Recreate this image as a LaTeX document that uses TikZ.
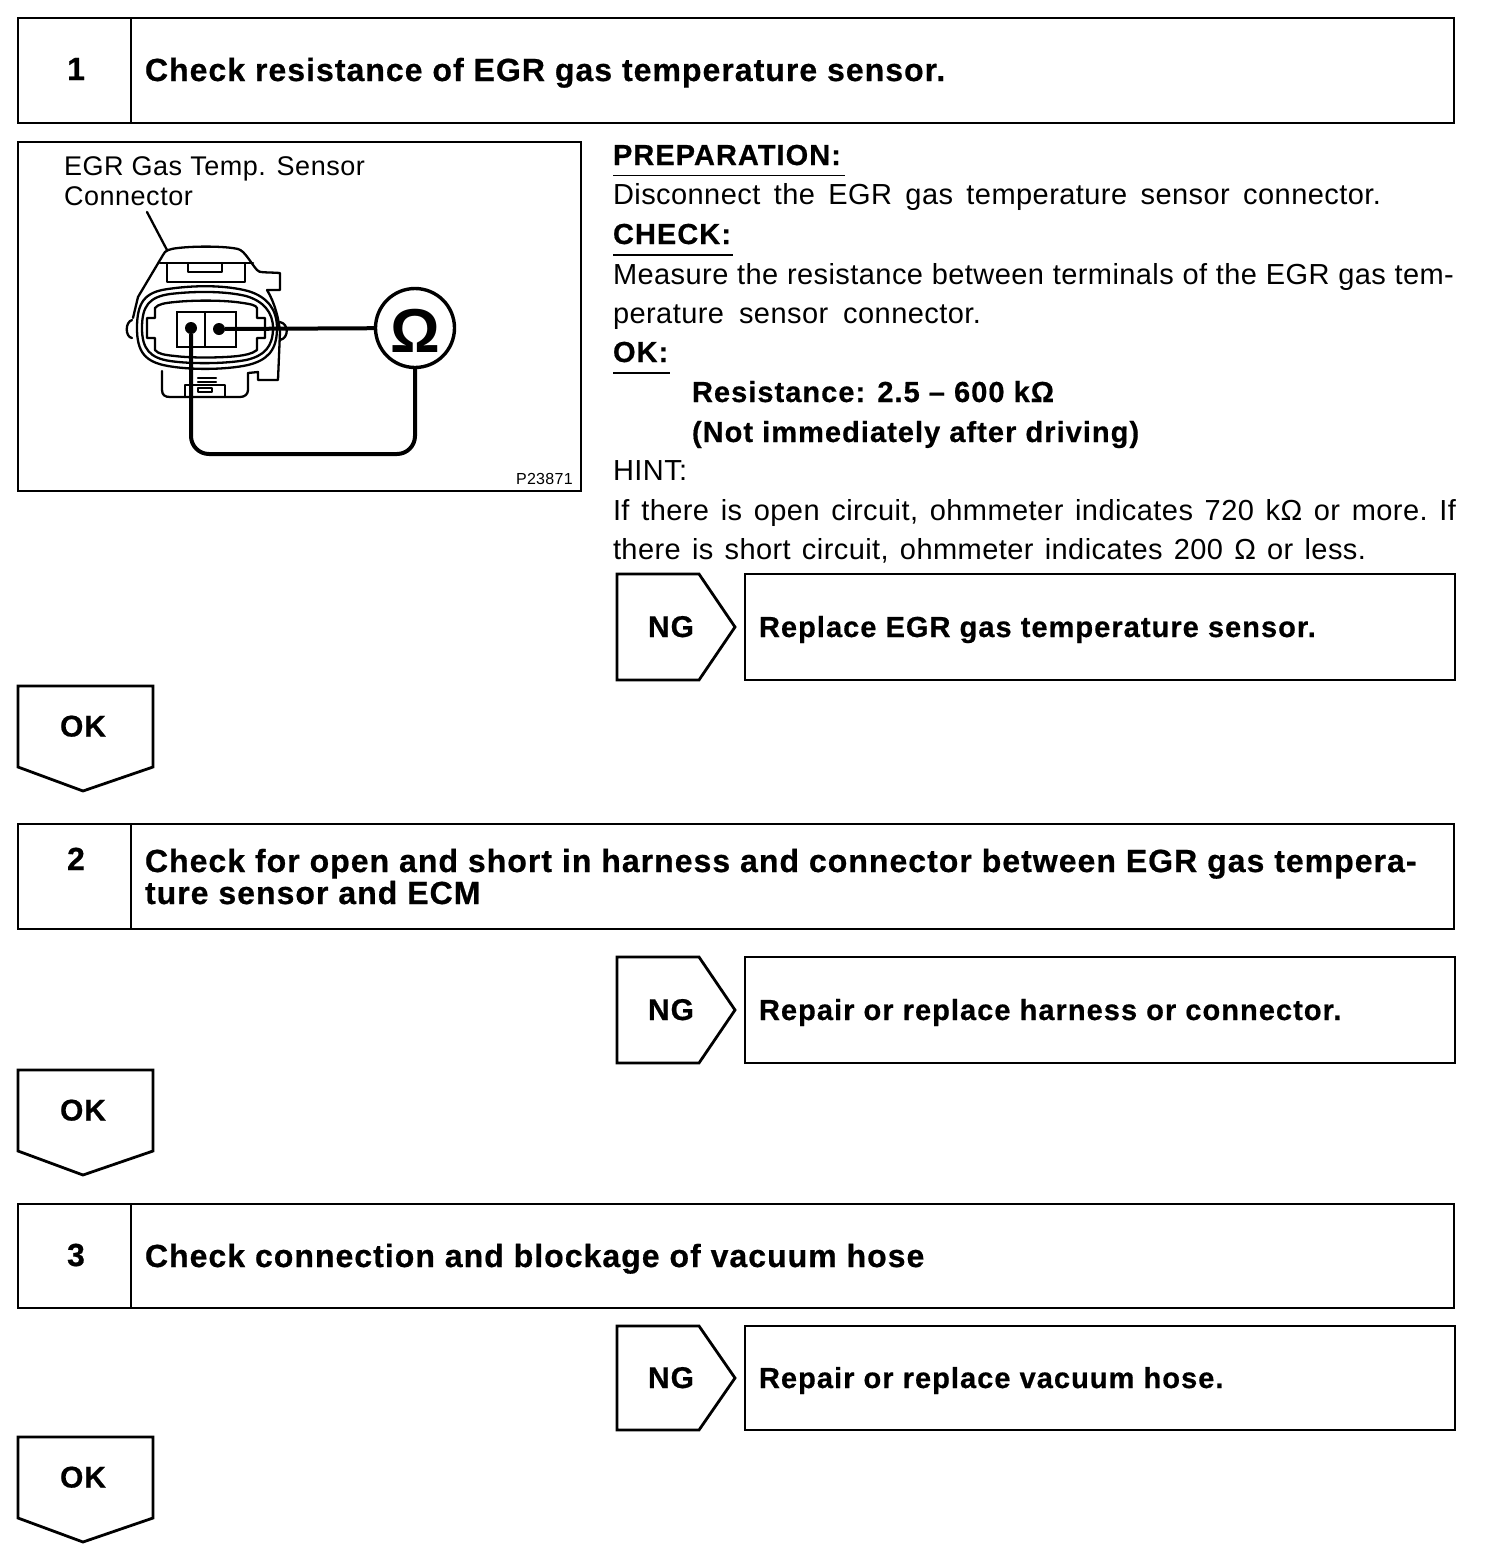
\documentclass[tikz,border=0pt]{standalone}
\usepackage{fontspec}
\setmainfont{Liberation Sans}[LetterSpace=1.5,Scale=1.0]
\newfontfamily\boldsp{Liberation Sans}[LetterSpace=3.6,BoldFeatures={FakeBold=0.6}]
\newfontfamily\headsp{Liberation Sans}[LetterSpace=3.2,BoldFeatures={FakeBold=0.6}]
\newfontfamily\figsp{Liberation Sans}[LetterSpace=2]
\newcommand{\fillw}[2]{\makebox[#1][s]{\frenchspacing\spaceskip=0.2em plus 1em\relax #2}}
\tikzset{
  x=1pt,y=-1pt,
  box/.style={line width=2.8pt,line join=miter},
  thin part/.style={line width=2.3pt,line join=round,line cap=round},
  wire/.style={line width=4pt,line join=round},
  txt/.style={anchor=base west,inner sep=0pt,outer sep=0pt,font=\fontsize{29}{29}\selectfont},
  btxt/.style={txt,font=\boldsp\fontsize{29}{29}\selectfont\bfseries},
  head/.style={txt,font=\headsp\fontsize{32}{32}\selectfont\bfseries},
  num/.style={anchor=base,inner sep=0pt,font=\headsp\fontsize{32}{32}\selectfont\bfseries},
  ngt/.style={anchor=base,inner sep=0pt,font=\headsp\fontsize{30}{30}\selectfont\bfseries},
  fig/.style={txt,font=\figsp\fontsize{27}{27}\selectfont},
  rule/.style={line width=1.3pt},
}
\begin{document}
\begin{tikzpicture}
\useasboundingbox (0,0) rectangle (1504,1558);
% step boxes
\draw[box] (18,18) rectangle (1454,123); \draw[box] (131,18) -- (131,123);
\draw[box] (18,824) rectangle (1454,929); \draw[box] (131,824) -- (131,929);
\draw[box] (18,1204) rectangle (1454,1308); \draw[box] (131,1204) -- (131,1308);
\node[num] (n1) at (76,80) {1};
\node[num] (n2) at (76,870) {2};
\node[num] (n3) at (76,1266) {3};
\node[head] (h1) at (145,81) {Check resistance of EGR gas temperature sensor.};
\node[head] (h2a) at (145,872) {Check for open and short in harness and connector between EGR gas tempera-};
\node[head] (h2b) at (145,904) {ture sensor and ECM};
\node[head] (h3) at (145,1267) {Check connection and blockage of vacuum hose};
% figure
\draw[box] (18,142) rectangle (581,491);
\node[fig] (f1) at (64,175) {EGR Gas Temp. Sensor};
\node[fig] (f2) at (64,205) {Connector};
\node[anchor=base east,inner sep=0pt,font=\figsp\fontsize{16}{16}\selectfont] (pn) at (573,484) {P23871};
\coordinate (lead) at (147,212);
\coordinate (body) at (167,250);
\draw[thin part] (lead) -- (body);
% connector housing
\draw[thin part] (133,318) -- (138,297) -- (163,255) .. controls (165,250) and (170,249) .. (178,248) .. controls (195,246) and (225,246) .. (238,249) .. controls (245,251) and (250,262) .. (257,270) .. controls (259,273) and (265,272) .. (280,273) -- (280,290) -- (267,290) .. controls (275,303) and (279,320) .. (280,332) -- (278,380) -- (258,380) -- (258,372) -- (248,373);
\draw[thin part] (160,263) -- (253,263);
\draw[thin part] (167,263) -- (167,282) -- (245,282) -- (245,263);
\draw[thin part] (188,263) -- (188,272) -- (222,272) -- (222,263);
% seals
\draw[thin part] (137,328) .. controls (137,302) and (145,292) .. (168,289) .. controls (195,285) and (225,285) .. (248,291) .. controls (268,297) and (277,310) .. (277,328) .. controls (277,350) and (268,360) .. (248,365) .. controls (225,370) and (190,370) .. (168,366) .. controls (145,362) and (137,352) .. (137,328) -- cycle;
\draw[thin part] (142,328) .. controls (142,306) and (149,297) .. (170,294) .. controls (195,291) and (225,291) .. (246,296) .. controls (263,301) and (273,312) .. (273,328) .. controls (273,347) and (264,356) .. (246,360) .. controls (225,364) and (190,364) .. (170,361) .. controls (150,358) and (142,349) .. (142,328) -- cycle;
\draw[thin part] (147,318) -- (155,318) -- (155,308) .. controls (158,304) and (165,303) .. (175,302) .. controls (195,300) and (225,300) .. (243,303) .. controls (250,304) and (256,305) .. (257,308) -- (257,318) -- (265,318) -- (265,338) -- (257,338) -- (257,350) .. controls (252,354) and (245,355) .. (238,356) .. controls (220,358) and (190,358) .. (175,356) .. controls (165,355) and (158,354) .. (155,350) -- (155,338) -- (147,338) -- cycle;
% side lugs
\draw[thin part] (132,320) .. controls (125,322) and (125,337) .. (132,338);
\draw[thin part] (280,322) .. controls (289,324) and (289,338) .. (280,340);
% bottom lock
\draw[thin part] (162,371) -- (162,390) .. controls (162,395) and (165,397) .. (170,397) -- (240,397) .. controls (245,397) and (248,394) .. (248,390) -- (248,373);
\draw[thin part] (185,397) -- (185,385) -- (225,385) -- (225,397);
\draw[thin part] (198,388) -- (212,388) -- (212,392) -- (198,392) -- cycle;
\draw[thin part] (198,378) -- (216,378);
\draw[thin part] (198,382) -- (216,382);
% terminal block
\draw[line width=2.8pt] (177,312) rectangle (236,347);
\draw[line width=2.8pt] (205,312) -- (205,347);
\node[circle,fill=black,inner sep=0pt,minimum size=12pt] (t1) at (191,328) {};
\node[circle,fill=black,inner sep=0pt,minimum size=12pt] (t2) at (219,329) {};
% ohmmeter
\node[circle,draw,line width=3.4pt,fill=white,minimum size=79pt,inner sep=0pt] (ohm) at (415,328) {};
\node[inner sep=0pt,font=\fontfamily{\rmdefault}\fontsize{62}{62}\selectfont\bfseries] (omega) at (415,331) {Ω};
\draw[wire] (t2) -- (ohm);
\draw[wire,rounded corners=18pt] (t1) -- (t1 |- 0,454) -- (ohm.south |- 0,454) -- (ohm.south);
% instructions
\node[btxt] (p1) at (613,165) {PREPARATION:};
\draw[rule] (613,175.5) -- (845,175.5);
\node[txt] (p2) at (613,204) {\fillw{768pt}{Disconnect the EGR gas temperature sensor connector.}};
\node[btxt] (p3) at (613,244) {CHECK:};
\draw[rule] (613,255) -- (733,255);
\node[txt] (p4) at (613,284) {\fillw{841pt}{Measure the resistance between terminals of the EGR gas tem-}};
\node[txt] (p5) at (613,323) {\fillw{368pt}{perature sensor connector.}};
\node[btxt] (p6) at (613,362) {OK:};
\draw[rule] (613,373) -- (670,373);
\node[btxt] (p7) at (692,402) {Resistance: 2.5 – 600 kΩ};
\node[btxt] (p8) at (692,442) {(Not immediately after driving)};
\node[txt] (p9) at (613,480) {HINT:};
\node[txt] (p10) at (613,520) {\fillw{843pt}{If there is open circuit, ohmmeter indicates 720 kΩ or more. If}};
\node[txt] (p11) at (613,559) {\fillw{753pt}{there is short circuit, ohmmeter indicates 200 Ω or less.}};
% NG
\foreach \nm/\tp/\bt/\lab in {a/574/680/Replace EGR gas temperature sensor.,b/957/1063/Repair or replace harness or connector.,c/1326/1430/Repair or replace vacuum hose.}{
  \draw[box] (617,\tp) -- (699,\tp) -- (735,{(\tp+\bt)/2}) -- (699,\bt) -- (617,\bt) -- cycle;
  \draw[box] (745,\tp) rectangle (1455,\bt);
  \node[ngt] (ng\nm) at (671,{(\tp+\bt)/2+10}) {NG};
  \node[btxt] (r\nm) at (759,{(\tp+\bt)/2+10}) {\lab};
}
% OK
\foreach \nm/\tp in {a/686,b/1070,c/1437}{
  \draw[box] (18,\tp) -- (153,\tp) -- (153,\tp+81) -- (83,\tp+105) -- (18,\tp+81) -- cycle;
  \node[ngt] (ok\nm) at (83,\tp+50.5) {OK};
}
\end{tikzpicture}
\end{document}
